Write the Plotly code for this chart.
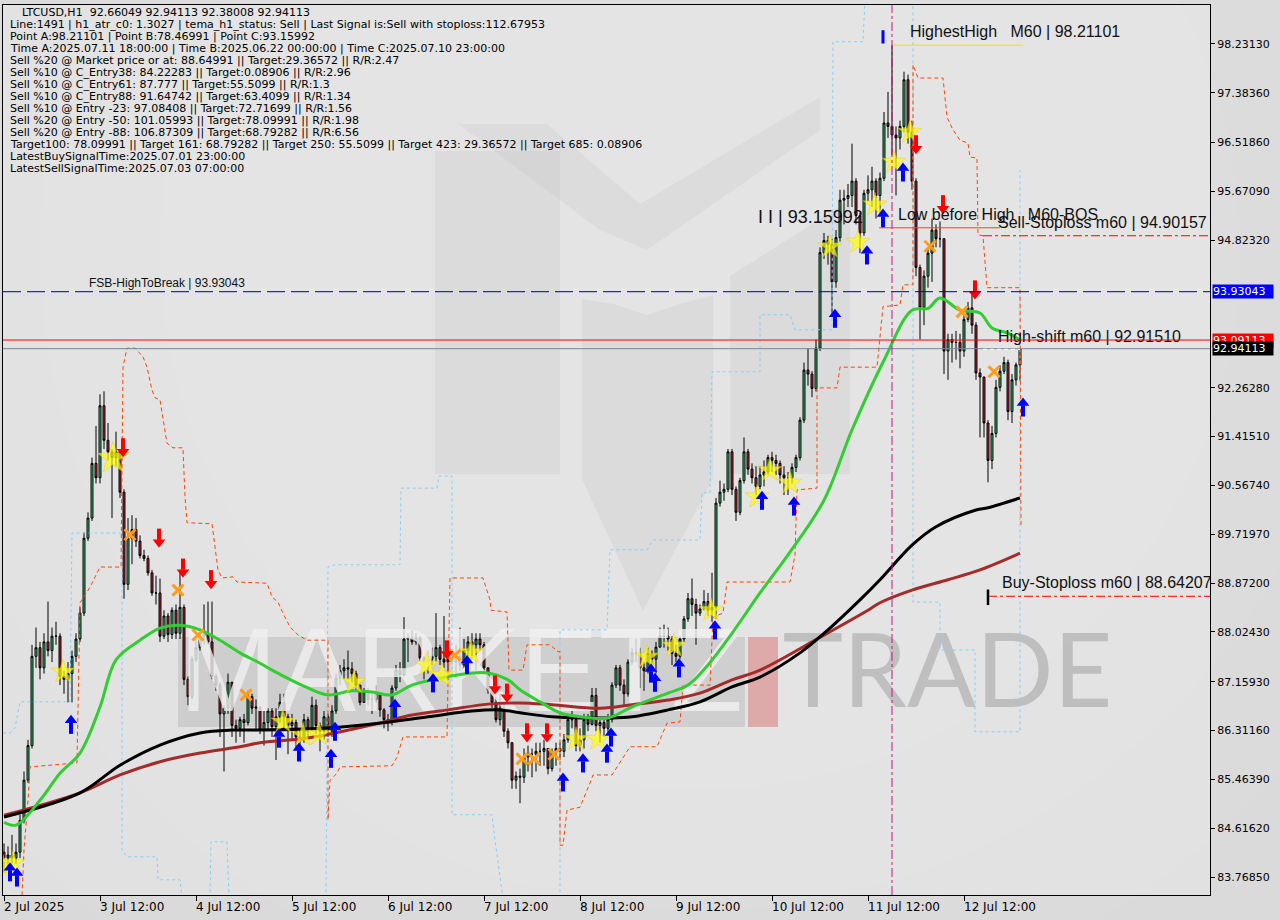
import plotly.graph_objects as go

# ---------------- data ----------------
bar_index = list(range(255))

opens = [
84.20,84.10,84.15,84.10,84.20,84.75,85.45,86.05,87.60,87.75,
87.40,87.85,87.70,87.95,87.95,87.25,87.20,87.30,87.60,87.90,
88.35,89.65,90.00,90.95,90.70,91.95,91.35,91.15,91.05,91.15,
90.45,88.85,89.65,89.80,89.60,89.35,89.30,89.05,88.70,88.70,
87.95,88.30,87.98,88.40,88.00,88.45,87.20,86.90,87.55,87.75,
87.95,88.00,87.85,87.25,87.10,86.60,86.70,87.15,86.40,86.35,
86.50,86.45,86.90,86.70,86.72,86.32,86.45,86.65,86.38,86.55,
86.80,86.55,86.40,86.45,86.20,86.15,86.50,86.35,86.75,86.40,
86.30,86.55,86.30,86.65,87.22,87.35,87.40,87.38,87.30,87.10,
86.80,87.00,86.85,86.85,86.95,86.67,86.50,86.45,87.05,87.36,
87.28,87.90,87.92,87.85,87.92,87.57,87.50,87.55,87.60,87.75,
87.55,87.50,87.55,87.50,87.60,87.45,87.70,87.85,87.80,87.90,
87.80,87.40,87.02,86.80,86.50,86.70,86.30,86.10,85.45,85.52,
85.50,85.85,85.90,85.90,85.95,85.95,86.00,85.65,85.95,86.00,
85.95,86.15,86.50,86.50,86.05,86.15,86.50,86.42,86.92,86.40,
86.45,86.35,86.50,87.10,87.40,87.10,86.95,87.50,87.66,87.65,
87.40,87.35,87.65,87.55,87.76,87.95,87.95,87.90,87.65,87.60,
87.90,88.25,88.60,88.50,88.35,88.42,88.55,88.40,88.45,90.26,
90.45,90.50,91.15,90.50,90.10,90.65,91.15,90.85,90.70,90.55,
90.75,90.80,91.05,91.00,90.95,90.75,90.70,90.70,90.88,91.05,
91.70,92.57,92.50,92.25,92.95,94.61,94.82,94.75,94.10,94.87,
95.52,95.55,95.60,95.85,95.25,94.95,95.64,95.70,95.85,95.60,
95.90,96.86,96.80,96.65,96.60,96.80,97.61,96.70,95.85,94.35,
93.66,94.20,94.60,95.00,94.85,94.85,92.90,93.10,93.05,93.05,
92.90,93.45,93.65,93.35,92.52,92.45,91.65,91.00,91.47,92.27,
92.55,92.70,91.85,92.40,92.66]

closes = [
84.10,84.15,84.10,84.20,84.75,85.45,86.05,87.60,87.75,87.40,
87.85,87.70,87.95,87.95,87.25,87.20,87.30,87.60,87.90,88.35,
89.65,90.00,90.95,90.70,91.95,91.35,91.15,91.05,91.15,90.45,
88.85,89.65,89.80,89.60,89.35,89.30,89.05,88.70,88.70,87.95,
88.30,87.98,88.40,88.00,88.45,87.20,86.90,87.55,87.75,87.95,
88.00,87.85,87.25,87.10,86.60,86.70,87.15,86.40,86.35,86.50,
86.45,86.90,86.70,86.72,86.32,86.45,86.65,86.38,86.55,86.80,
86.55,86.40,86.45,86.20,86.15,86.50,86.35,86.75,86.40,86.30,
86.55,86.30,86.65,87.22,87.35,87.40,87.38,87.30,87.10,86.80,
87.00,86.85,86.85,86.95,86.67,86.50,86.45,87.05,87.36,87.28,
87.90,87.92,87.85,87.92,87.57,87.50,87.55,87.60,87.75,87.55,
87.50,87.55,87.50,87.60,87.45,87.70,87.85,87.80,87.90,87.80,
87.40,87.02,86.80,86.50,86.70,86.30,86.10,85.45,85.52,85.50,
85.85,85.90,85.90,85.95,85.95,86.00,85.65,85.95,86.00,85.95,
86.15,86.50,86.50,86.05,86.15,86.50,86.42,86.92,86.40,86.45,
86.35,86.50,87.10,87.40,87.10,86.95,87.50,87.66,87.65,87.40,
87.35,87.65,87.55,87.76,87.95,87.95,87.90,87.65,87.60,87.90,
88.25,88.60,88.50,88.35,88.42,88.55,88.40,88.45,90.26,90.45,
90.50,91.15,90.50,90.10,90.65,91.15,90.85,90.70,90.55,90.75,
90.80,91.05,91.00,90.95,90.75,90.70,90.70,90.88,91.05,91.70,
92.57,92.50,92.25,92.95,94.61,94.82,94.75,94.10,94.87,95.52,
95.55,95.60,95.85,95.25,94.95,95.64,95.70,95.85,95.60,95.90,
96.86,96.80,96.65,96.60,96.80,97.61,96.70,95.85,94.35,93.66,
94.20,94.60,95.00,94.85,94.85,92.90,93.10,93.05,93.05,92.90,
93.45,93.65,93.35,92.52,92.45,91.65,91.00,91.47,92.27,92.55,
92.70,91.85,92.40,92.66,92.94]

highs = [
84.35,84.30,84.50,84.35,84.85,85.60,86.15,87.80,88.10,87.85,
88.00,88.55,88.10,88.20,88.00,87.35,87.50,87.70,88.00,88.45,
89.75,90.10,91.05,91.60,92.15,92.20,91.65,91.20,91.50,91.15,
90.50,90.00,90.05,90.00,89.70,89.45,89.35,89.10,89.00,88.95,
88.40,88.35,88.45,88.50,89.10,88.50,87.25,87.60,87.90,88.00,
88.50,88.55,88.55,87.30,87.15,86.75,87.30,87.15,86.50,86.55,
86.60,87.00,86.95,86.85,86.70,86.65,86.70,86.70,86.70,86.95,
86.95,86.60,86.60,86.50,86.35,86.60,86.55,86.90,86.85,86.45,
86.65,86.60,86.75,87.30,87.45,87.55,87.70,87.50,87.35,87.10,
87.05,87.05,86.95,87.10,86.95,86.70,86.60,87.10,87.45,87.50,
88.28,88.00,88.05,88.00,87.95,87.60,87.70,87.75,88.35,87.80,
88.30,87.70,87.65,87.80,88.10,87.90,87.95,88.00,88.00,88.00,
87.85,87.40,87.05,86.90,86.95,86.80,86.35,86.10,85.60,85.65,
86.00,86.05,86.00,86.10,86.10,86.15,86.00,86.00,86.10,86.10,
86.25,86.60,86.65,86.55,86.35,86.60,86.60,87.05,87.05,86.55,
86.55,86.60,87.15,87.45,87.45,87.20,87.55,87.75,87.90,87.75,
87.50,87.75,87.70,87.85,88.10,88.15,88.10,87.95,87.80,87.95,
88.30,88.70,88.95,88.60,88.50,88.75,88.70,89.05,90.35,90.65,
90.60,91.20,91.20,90.55,90.70,91.40,91.20,90.95,90.90,90.90,
91.00,91.10,91.15,91.10,91.00,90.90,90.80,90.95,91.10,91.75,
92.70,92.95,92.55,93.10,94.70,94.95,94.90,94.85,95.00,95.70,
95.70,95.80,96.50,95.90,95.30,95.70,95.95,96.10,95.90,96.00,
97.05,97.40,98.21,96.80,96.90,97.75,97.70,96.90,95.90,94.40,
94.30,94.70,95.20,95.10,95.15,94.85,93.20,93.20,93.25,93.20,
93.55,93.75,93.90,93.40,92.60,92.45,91.70,91.60,92.40,92.65,
92.80,92.75,92.50,92.70,92.94]

lows = [
83.85,83.95,83.90,84.00,84.10,84.70,85.40,86.00,87.40,87.20,
87.30,87.60,87.50,87.80,87.10,86.95,86.80,86.80,87.50,87.85,
88.30,89.60,89.95,90.60,90.60,91.20,91.00,90.00,90.90,90.35,
88.60,88.75,89.20,89.50,89.30,89.25,89.00,88.65,88.50,87.85,
87.90,87.85,87.90,87.90,87.90,87.10,86.75,86.85,87.50,87.70,
87.80,87.80,87.20,87.00,86.20,85.60,86.60,86.20,86.10,86.20,
86.10,86.40,86.60,86.30,86.25,86.05,86.30,86.20,85.80,86.45,
86.35,85.90,86.15,86.00,85.80,86.10,86.20,86.30,86.25,85.95,
86.15,86.20,86.20,86.60,87.10,87.20,87.20,87.15,87.00,86.75,
86.80,86.75,86.60,86.80,86.55,86.35,86.30,86.40,87.00,87.15,
87.25,87.50,87.80,87.80,87.50,87.20,87.30,87.45,87.50,87.45,
87.40,87.30,87.35,87.30,87.35,87.40,87.60,87.60,87.35,87.70,
87.30,86.95,86.70,86.45,86.40,86.20,86.00,85.30,85.30,85.05,
85.40,85.60,85.50,85.60,85.70,85.70,85.55,85.60,85.70,85.80,
85.85,86.10,86.35,85.95,85.95,86.00,86.30,86.40,86.30,86.10,
86.20,86.25,86.45,87.05,87.00,86.75,86.90,87.45,87.50,87.05,
87.00,87.30,87.35,87.30,87.75,87.75,87.70,87.45,87.50,87.55,
87.85,88.20,88.30,87.80,88.30,88.40,88.30,88.20,88.25,90.20,
90.30,90.45,90.40,89.95,90.05,90.60,90.75,90.60,90.40,90.50,
90.55,90.75,90.80,90.75,90.60,90.40,90.40,90.60,90.80,91.00,
91.65,92.30,92.10,92.20,92.90,94.50,94.40,93.55,94.00,94.80,
95.10,95.40,95.40,95.10,94.60,94.90,95.50,95.40,95.20,95.30,
95.85,96.60,96.30,95.60,96.40,96.70,96.50,95.70,94.20,93.10,
93.35,94.00,94.10,94.70,94.70,92.50,92.40,92.70,92.75,92.60,
92.80,93.40,93.20,92.40,91.40,91.40,90.62,90.85,91.40,92.20,
92.50,91.70,91.65,92.30,92.38]

# moving averages (sampled readings: bar index, price)
ma_fast_bar = [0,3,9,14,19,24,28,34,39,44,49,54,59,64,67,76,81,87,92,97,102,109,117,121,126,129,134,139,144,151,157,166,171,176,182,189,196,205,212,220,227,231,234,239,244,247,251,254]
ma_fast_val = [84.72,84.67,85.10,85.57,85.92,86.72,87.54,87.88,88.09,88.14,88.06,87.88,87.66,87.48,87.36,87.05,86.93,87.00,86.98,86.93,87.10,87.22,87.31,87.31,87.19,87.02,86.81,86.62,86.55,86.53,86.72,86.96,87.10,87.45,88.00,88.70,89.36,90.31,91.53,92.74,93.61,93.64,93.82,93.61,93.56,93.30,93.21,93.09]
ma_mid_bar = [0,19,29,39,49,57,64,82,94,106,117,124,129,137,151,157,166,174,182,189,199,206,214,219,227,233,243,246,254]
ma_mid_val = [84.81,85.23,85.71,86.06,86.27,86.32,86.32,86.36,86.44,86.55,86.65,86.67,86.62,86.55,86.53,86.55,86.67,86.81,87.07,87.24,87.66,88.06,88.58,88.93,89.53,89.85,90.14,90.18,90.35]
ma_slow_bar = [0,19,29,39,49,59,64,76,92,102,111,121,129,137,149,157,166,174,182,189,204,216,219,227,236,244,254]
ma_slow_val = [84.84,85.23,85.54,85.77,85.92,86.03,86.10,86.18,86.41,86.58,86.67,86.77,86.79,86.76,86.70,86.76,86.84,86.96,87.19,87.36,87.93,88.40,88.53,88.75,88.93,89.10,89.39]

# stop channel (red dashed)
red_chan_bar = [4.5,5,6,6.5,18.25,19,21.5,24,29.25,29.5,29.75,30.75,32.75,34.75,35.75,37,37.75,39,39.75,40.75,42.25,44.75,45.25,45.75,52,53.5,54.5,57.25,58.25,65.75,67,68.5,69.75,71.5,73.5,75.75,81,81,81.5,83.25,84,97,98.25,99.75,110.75,111.5,119.75,121.5,121.75,125.75,126.25,129.75,130.75,136.5,138.5,139,139,139.75,140.75,144,146.5,147.25,152,156.5,163.25,165.75,169,169.75,176.5,177.25,179.75,180.75,196.5,197.75,198.25,203.25,203.25,208.25,209,218.25,219.75,224,224.75,227.25,227.25,228.5,234.75,235.75,237.25,239,241,241.5,243.25,243.5,244.75,245.75,254,254.25]
red_chan_val = [83.45,84.24,85.10,85.68,85.75,88.53,88.80,89.15,89.15,91.23,92.62,92.95,92.95,92.80,92.62,92.22,92.09,92.05,91.70,91.30,91.22,91.22,90.37,89.92,89.90,89.10,88.96,88.98,88.89,88.87,88.63,88.54,88.35,88.11,87.97,87.88,87.88,84.76,85.45,85.57,85.68,85.70,85.85,86.20,86.20,88.96,88.96,88.58,88.40,88.37,87.36,87.36,87.80,87.80,87.68,87.68,84.32,84.32,84.93,84.98,85.40,85.54,85.54,86.03,86.03,86.44,86.46,87.10,87.10,88.28,88.35,88.89,88.89,89.36,90.49,90.52,92.26,92.26,92.62,92.62,93.67,93.70,94.05,94.05,97.87,97.64,97.64,96.96,96.74,96.56,96.51,96.27,96.25,94.92,94.90,94.00,94.00,89.88]

# envelope channel (light blue dotted); None separates pieces
blue_chan_bar = [-0.25,1.5,2.75,4,16.5,17,29.5,29.5,30.75,38.25,38.5,44,44.5,None,
                 51.5,51.75,55.75,56.25,None,
                 80.5,81,82.75,99,99.25,108.25,108.75,112,112,122,122.75,124.75,None,
                 139,139,150.75,151.5,160.75,162.25,174,174.5,176.5,177,189,189,196.5,197.75,207,207.25,214.75,215.25,None,
                 227.25,227.25,234,234,242.75,242.75,254,254]
blue_chan_val = [86.27,86.27,86.36,86.81,86.81,89.74,89.74,84.24,84.12,84.12,83.72,83.72,83.40,None,
                 83.40,84.38,84.38,83.40,None,
                 83.40,89.15,89.19,89.19,90.52,90.52,90.73,90.73,84.85,84.85,84.41,83.40,None,
                 83.40,88.06,88.06,89.45,89.45,89.62,89.62,90.44,90.44,92.54,92.54,93.53,93.53,93.27,93.27,98.27,98.27,98.99,None,
                 98.99,88.54,88.54,87.71,87.71,86.29,86.29,96.04]

# signal markers
star_bar = [-0.2,2.25,14.75,27.25,69.75,74.75,78.75,87.5,105.75,109.5,116.75,143,148.5,160.75,167.5,176.75,188.25,191.5,196.5,206.5,213.5,217.75,222.5,226.5]
star_val = [83.94,84.01,87.33,91.04,86.46,86.23,86.25,87.15,87.45,87.27,87.67,86.16,86.16,87.59,87.78,88.40,90.37,90.83,90.61,94.71,94.79,95.44,96.18,96.70]
up_bar = [1.5,3.25,16.75,68.75,73.75,81.75,82.75,97.75,107.25,115.75,139.75,144.75,150.75,151.75,161.75,162.75,168.75,177.75,189.5,197.5,207.75,215.75,219.75,224.75,254.75]
up_val = [83.86,83.77,86.42,86.18,85.94,85.83,86.30,86.70,87.14,87.46,85.42,85.75,85.92,86.20,87.31,87.15,87.40,88.06,90.31,90.21,93.47,94.57,95.21,96.01,91.93]
down_bar = [29.75,38.75,44.75,51.75,110.75,122.75,125.75,130.75,135.75,228,234.75,242.75]
down_val = [91.22,89.65,89.13,88.93,87.71,87.10,86.96,86.27,86.27,96.48,95.44,93.96]
cross_bar = [31.5,43.5,48.5,60.5,112.75,129.5,132.5,137.5,231.5,239.5,247.5]
cross_val = [89.71,88.75,87.97,86.93,87.62,85.82,85.82,85.90,94.72,93.58,92.54]

# levels
fsb_high = 93.93043
ask_price = 93.09113
bid_price = 92.94113
sell_stop = 94.90157
buy_stop = 88.64207
low_before_high = 95.04
highest_high = 98.21101
high_time_bar = 222

tick_bars = [0, 24, 48, 72, 96, 120, 144, 168, 192, 216, 240]
tick_labels = ["2 Jul 2025", "3 Jul 12:00", "4 Jul 12:00", "5 Jul 12:00", "6 Jul 12:00",
               "7 Jul 12:00", "8 Jul 12:00", "9 Jul 12:00", "10 Jul 12:00", "11 Jul 12:00", "12 Jul 12:00"]
price_ticks = [98.23130, 97.38360, 96.51860, 95.67090, 94.82320, 92.26280, 91.41510, 90.56740,
               89.71970, 88.87200, 88.02430, 87.15930, 86.31160, 85.46390, 84.61620, 83.76850]

info_lines = [
    "LTCUSD,H1  92.66049 92.94113 92.38008 92.94113",
    "Line:1491 | h1_atr_c0: 1.3027 | tema_h1_status: Sell | Last Signal is:Sell with stoploss:112.67953",
    "Point A:98.21101 | Point B:78.46991 | Point C:93.15992",
    "Time A:2025.07.11 18:00:00 | Time B:2025.06.22 00:00:00 | Time C:2025.07.10 23:00:00",
    "Sell %20 @ Market price or at: 88.64991 || Target:29.36572 || R/R:2.47",
    "Sell %10 @ C_Entry38: 84.22283 || Target:0.08906 || R/R:2.96",
    "Sell %10 @ C_Entry61: 87.777 || Target:55.5099 || R/R:1.3",
    "Sell %10 @ C_Entry88: 91.64742 || Target:63.4099 || R/R:1.34",
    "Sell %10 @ Entry -23: 97.08408 || Target:72.71699 || R/R:1.56",
    "Sell %20 @ Entry -50: 101.05993 || Target:78.09991 || R/R:1.98",
    "Sell %20 @ Entry -88: 106.87309 || Target:68.79282 || R/R:6.56",
    "Target100: 78.09991 || Target 161: 68.79282 || Target 250: 55.5099 || Target 423: 29.36572 || Target 685: 0.08906",
    "LatestBuySignalTime:2025.07.01 23:00:00",
    "LatestSellSignalTime:2025.07.03 07:00:00",
]

# ---------------- figure ----------------
X_RANGE = [-0.25, 301.5]
Y_RANGE = [83.456, 98.908]
PX0, PX1, PY0, PY1 = 3, 1210, 5, 895
PRICE_PER_PX = (Y_RANGE[1] - Y_RANGE[0]) / (PY1 - PY0)
FONT = "Liberation Sans, Arial, sans-serif"
UIFONT = "DejaVu Sans, Verdana, sans-serif"
NB = "\u00a0"


def pxp(x):
    return (x - PX0) / (PX1 - PX0)


def pyp(y):
    return (PY1 - y) / (PY1 - PY0)


def poly(points):
    return "M " + " L ".join(f"{pxp(x):.5f},{pyp(y):.5f}" for x, y in points) + " Z"


shapes = []
# soft background lighting (many faint layers -> smooth gradient)
for r in [900, 780, 660, 540, 430, 330, 240, 160]:
    cx, cy = 700, 250
    shapes.append(dict(type="circle", xref="paper", yref="paper", layer="below",
                       x0=pxp(cx - r), x1=pxp(cx + r), y0=pyp(cy + r), y1=pyp(cy - r),
                       fillcolor="rgba(255,255,255,0.035)", line=dict(width=0)))
# logo watermark
logo_fill = "rgba(175,175,175,0.16)"
shapes.append(dict(type="path", xref="paper", yref="paper", layer="below",
                   path=poly([(435, 151), (560, 151), (560, 474), (435, 474)]),
                   fillcolor=logo_fill, line=dict(width=0)))
shapes.append(dict(type="path", xref="paper", yref="paper", layer="below",
                   path=poly([(582, 299), (613, 304), (647, 315), (680, 304), (713, 295), (713, 479), (643, 611), (582, 479)]),
                   fillcolor=logo_fill, line=dict(width=0)))
shapes.append(dict(type="path", xref="paper", yref="paper", layer="below",
                   path=poly([(730, 276), (850, 200), (850, 474), (730, 474)]),
                   fillcolor=logo_fill, line=dict(width=0)))
shapes.append(dict(type="path", xref="paper", yref="paper", layer="below",
                   path=poly([(458, 124), (547, 124), (640, 204), (820, 97), (820, 130), (647, 250), (600, 230)]),
                   fillcolor="rgba(175,175,175,0.14)", line=dict(width=0)))
# text watermark band + red bar
shapes.append(dict(type="rect", xref="paper", yref="paper", layer="below",
                   x0=pxp(178), x1=pxp(745), y0=pyp(727), y1=pyp(637),
                   fillcolor="rgba(165,165,165,0.33)", line=dict(width=0)))
shapes.append(dict(type="rect", xref="paper", yref="paper", layer="below",
                   x0=pxp(748), x1=pxp(778), y0=pyp(727), y1=pyp(637),
                   fillcolor="rgba(215,120,120,0.55)", line=dict(width=0)))

# horizontal levels and vertical markers
shapes += [
    dict(type="line", xref="paper", yref="y", x0=0, x1=1, y0=fsb_high, y1=fsb_high,
         line=dict(color="#0000A0", width=1, dash="18px,6px")),
    dict(type="line", xref="paper", yref="y", x0=0, x1=1, y0=ask_price, y1=ask_price,
         line=dict(color="#FF0000", width=1)),
    dict(type="line", xref="paper", yref="y", x0=0, x1=1, y0=bid_price, y1=bid_price,
         line=dict(color="#778899", width=1)),
    dict(type="line", xref="x", yref="y", x0=244.75, x1=X_RANGE[1], y0=sell_stop, y1=sell_stop,
         line=dict(color="#FF0000", width=1, dash="dashdot")),
    dict(type="line", xref="x", yref="y", x0=246, x1=X_RANGE[1], y0=buy_stop, y1=buy_stop,
         line=dict(color="#FF0000", width=1, dash="dashdot")),
    dict(type="line", xref="x", yref="y", x0=218.75, x1=249, y0=low_before_high, y1=low_before_high,
         line=dict(color="#FF4500", width=1)),
    dict(type="line", xref="x", yref="y", x0=high_time_bar, x1=254.75, y0=highest_high, y1=highest_high,
         line=dict(color="#E8E800", width=1)),
    dict(type="line", xref="x", yref="paper", x0=high_time_bar, x1=high_time_bar, y0=0, y1=1,
         line=dict(color="#C71585", width=1, dash="dashdot")),
    dict(type="line", xref="x", yref="y", x0=219.75, x1=219.75, y0=98.24, y1=98.47,
         line=dict(color="#0000FF", width=3)),
    dict(type="line", xref="x", yref="y", x0=246, x1=246, y0=88.49, y1=88.76,
         line=dict(color="#000000", width=2.5)),
    dict(type="line", xref="x", yref="y", x0=244.75, x1=254, y0=92.93, y1=92.93,
         line=dict(color="#FFFFFF", width=1, dash="4px,3px")),
]

fig = go.Figure()

# watermark text (drawn first, beneath the candles)
fig.add_trace(go.Scatter(x=[114.25], y=[87.16], mode="text", text=["MARKETZ"],
                         textfont=dict(family=FONT, size=118, color="rgba(240,240,240,0.8)"),
                         hoverinfo="skip", showlegend=False))
fig.add_trace(go.Scatter(x=[235.9], y=[87.16], mode="text", text=["TRADE"],
                         textfont=dict(family="Lato, Roboto, sans-serif", size=102,
                                       color="rgba(160,160,160,0.55)"),
                         hoverinfo="skip", showlegend=False))

# clamp highs/lows to bodies
hi = [max(h, o, c) for h, o, c in zip(highs, opens, closes)]
lo = [min(l, o, c) for l, o, c in zip(lows, opens, closes)]

fig.add_trace(go.Candlestick(
    x=bar_index, open=opens, high=hi, low=lo, close=closes,
    increasing=dict(line=dict(color="#000000", width=1), fillcolor="#33C47A"),
    decreasing=dict(line=dict(color="#000000", width=1), fillcolor="#B5283B"),
    whiskerwidth=0, hoverinfo="skip", showlegend=False))

# channels
fig.add_trace(go.Scatter(x=blue_chan_bar, y=blue_chan_val, mode="lines",
                         line=dict(color="#87CEFA", width=1, dash="3px,3px"),
                         connectgaps=False, hoverinfo="skip", showlegend=False))
fig.add_trace(go.Scatter(x=red_chan_bar, y=red_chan_val, mode="lines",
                         line=dict(color="#FF4500", width=1, dash="4px,3px"),
                         hoverinfo="skip", showlegend=False))

# moving averages
fig.add_trace(go.Scatter(x=ma_slow_bar, y=ma_slow_val, mode="lines", line_shape="spline",
                         line=dict(color="#A52A2A", width=3), hoverinfo="skip", showlegend=False))
fig.add_trace(go.Scatter(x=ma_mid_bar, y=ma_mid_val, mode="lines", line_shape="spline",
                         line=dict(color="#000000", width=3), hoverinfo="skip", showlegend=False))
fig.add_trace(go.Scatter(x=ma_fast_bar, y=ma_fast_val, mode="lines", line_shape="spline",
                         line=dict(color="#32CD32", width=3), hoverinfo="skip", showlegend=False))

# signal markers
fig.add_trace(go.Scatter(x=cross_bar, y=cross_val, mode="markers",
                         marker=dict(symbol="x-thin", size=11, line=dict(color="#FF9D1A", width=3)),
                         hoverinfo="skip", showlegend=False))
star_sizes = [18 if i != 3 else 24 for i in range(len(star_bar))]
fig.add_trace(go.Scatter(x=star_bar, y=star_val, mode="markers",
                         marker=dict(symbol="star", size=star_sizes, color="#FFFF00",
                                     line=dict(color="#F0C000", width=0.5)),
                         hoverinfo="skip", showlegend=False))

# arrows = arrow head + stem (offsets are a few pixels, expressed in price units)
off = 4 * PRICE_PER_PX
for xs, vals, col, up in [(up_bar, up_val, "#0000FF", True), (down_bar, down_val, "#FF0000", False)]:
    sgn = 1 if up else -1
    fig.add_trace(go.Scatter(x=xs, y=[v - sgn * off for v in vals], mode="markers",
                             marker=dict(symbol="line-ns", size=8, line=dict(color=col, width=4)),
                             hoverinfo="skip", showlegend=False))
    fig.add_trace(go.Scatter(x=xs, y=[v + sgn * off for v in vals], mode="markers",
                             marker=dict(symbol="triangle-up" if up else "triangle-down", size=11, color=col,
                                         line=dict(width=0)),
                             hoverinfo="skip", showlegend=False))

# chart labels (clipped to the plot area like the original)
labels = [
    (226.5, 98.42, f"HighestHigh{NB*3}M60 | 98.21101", 16),
    (223.5, 95.245, f"Low before High{NB*3}M60-BOS", 16),
    (248.5, 95.106, "Sell-Stoploss m60 | 94.90157", 16),
    (248.5, 93.127, "High-shift m60 | 92.91510", 16),
    (249.5, 88.856, "Buy-Stoploss m60 | 88.64207", 16),
    (188.5, 95.21, "I I | 93.15992", 18),
    (21.25, 94.064, "FSB-HighToBreak | 93.93043", 12),
]
for lx, ly, txt, sz in labels:
    fig.add_trace(go.Scatter(x=[lx], y=[ly], mode="text", text=[txt], textposition="middle right",
                             textfont=dict(family=FONT, size=sz, color="#111111"),
                             hoverinfo="skip", showlegend=False))

annotations = []
# info block
for k, line in enumerate(info_lines):
    annotations.append(dict(xref="paper", yref="paper", x=pxp(20 if k == 0 else 8), y=pyp(12.5 + 12 * k),
                            xanchor="left", yanchor="middle", showarrow=False,
                            text=line.replace("  ", NB + NB), font=dict(family=UIFONT, size=11, color="#000000")))
# date labels
for b, t in zip(tick_bars, tick_labels):
    annotations.append(dict(xref="x", yref="paper", x=b, y=0, xanchor="left", yanchor="top",
                            xshift=-2, yshift=-3, showarrow=False, text=t,
                            font=dict(family=UIFONT, size=12, color="#000000")))
# price boxes on the axis
for val, bg, fg in [(fsb_high, "#0000FF", "#FFFFFF"), (ask_price, "#FF0000", "#FFFFFF"), (bid_price, "#000000", "#FFFFFF")]:
    annotations.append(dict(xref="paper", yref="y", x=1, y=val, xanchor="left", yanchor="middle",
                            xshift=2, showarrow=False, text=f"{val:.5f}", bgcolor=bg, borderpad=0,
                            width=60, align="left", font=dict(family=UIFONT, size=11, color=fg)))

fig.update_layout(
    width=1280, height=920,
    margin=dict(l=PX0, r=1280 - PX1, t=PY0, b=920 - PY1, pad=0, autoexpand=False),
    paper_bgcolor="#D9D9D9", plot_bgcolor="#E0E0E0",
    showlegend=False, shapes=shapes, annotations=annotations,
    xaxis=dict(range=X_RANGE, tickvals=tick_bars, showticklabels=False, ticks="outside", ticklen=5,
               tickcolor="#000000", showgrid=False, zeroline=False, showline=True, linecolor="#000000",
               mirror=True, rangeslider=dict(visible=False), fixedrange=True, automargin=False),
    yaxis=dict(range=Y_RANGE, side="right", tickvals=price_ticks, ticktext=[f"{v:.5f}" for v in price_ticks],
               ticks="outside", ticklen=4, tickcolor="#000000", tickfont=dict(family=UIFONT, size=11, color="#000000"),
               showgrid=False, zeroline=False, showline=True, linecolor="#000000", mirror=True, fixedrange=True,
               automargin=False),
)

fig.write_html("out.html", config={"displayModeBar": False},
               post_script="document.body.style.margin='0px';document.body.style.padding='0px';")
